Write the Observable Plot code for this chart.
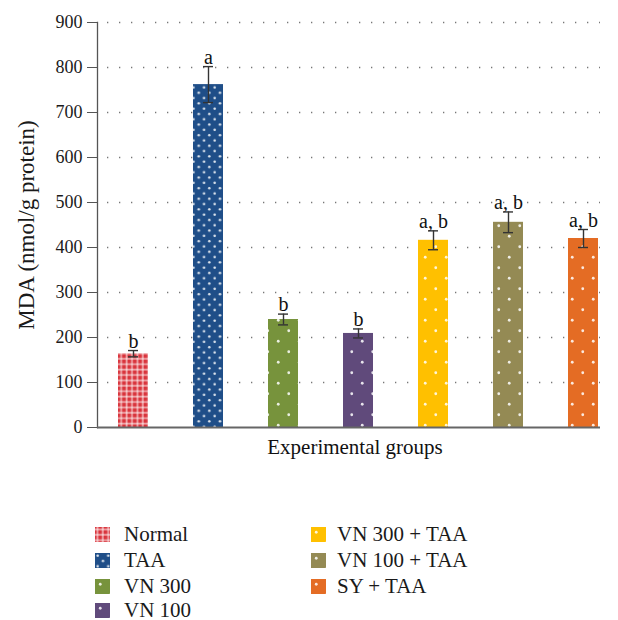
<!DOCTYPE html>
<html>
<head>
<meta charset="utf-8">
<script src="https://cdn.jsdelivr.net/npm/d3@7"></script>
<script src="https://cdn.jsdelivr.net/npm/@observablehq/plot@0.6"></script>
<style>
  body { margin: 0; background: #fff; font-family: "Liberation Serif", "DejaVu Serif", serif; }
  #chart { position: relative; width: 618px; height: 470px; }
  #chart svg g[aria-label="y-axis label"] { font-size: 23px !important; fill: #1a1a1a; font-family: "Liberation Serif", serif; }
  #chart svg g[aria-label="y-axis label"] text { font-size: 23px !important; }
  #legend { position: relative; width: 618px; height: 150px; font-family: "Liberation Serif", serif; font-size: 21px; color: #1a1a1a; }
  .item { position: absolute; display: flex; align-items: center; height: 20px; }
</style>
</head>
<body>
<div id="chart"></div>
<div id="legend"></div>
<script>
const groups = ["Normal", "TAA", "VN 300", "VN 100", "VN 300 + TAA", "VN 100 + TAA", "SY + TAA"];
const means  = [164, 762, 240, 209, 416, 456, 420];
const errors = [7, 40, 12, 10, 21, 23, 20];
const letters = ["b", "a", "b", "b", "a, b", "a, b", "a, b"];
const colors = ["#d9343c", "#1f4e88", "#77933c", "#604a7b", "#ffc000", "#948a54", "#e46c24"];
const patternIds = ["p0", "p1", "p2", "p3", "p4", "p5", "p6"];
const yTicks = [0, 100, 200, 300, 400, 500, 600, 700, 800, 900];
const gridTicks = [100, 200, 300, 400, 500, 600, 700, 800, 900];

const data = groups.map((g, i) => ({group: g, mean: means[i], err: errors[i], letter: letters[i], fill: `url(#${patternIds[i]})`}));
const serif = "Liberation Serif, serif";

const chart = Plot.plot({
  width: 618,
  height: 470,
  marginLeft: 97,
  marginRight: 18,
  marginTop: 22,
  marginBottom: 43,
  style: {fontFamily: serif, fontSize: "18px", color: "#1a1a1a", background: "#fff"},
  x: {domain: groups, range: [95.5, 620.5], paddingInner: 0.6, paddingOuter: 0.3, round: false, axis: null},
  y: {domain: [0, 900], ticks: yTicks, label: null},
  marks: [
    Plot.ruleY(gridTicks, {stroke: "#777", strokeWidth: 1.3, strokeDasharray: "1.3,10.7", strokeDashoffset: -10}),
    Plot.barY(data, {x: "group", y: "mean", fill: "fill"}),
    Plot.ruleX(data, {x: "group", y1: d => d.mean - d.err, y2: d => d.mean + d.err, stroke: "#333", strokeWidth: 1.4}),
    Plot.tickY(data, {x: "group", y: d => d.mean - d.err, stroke: "#333", strokeWidth: 1.4, insetLeft: 10, insetRight: 10}),
    Plot.tickY(data, {x: "group", y: d => d.mean + d.err, stroke: "#333", strokeWidth: 1.4, insetLeft: 10, insetRight: 10}),
    Plot.text(data, {x: "group", y: d => d.mean + d.err, text: "letter", lineAnchor: "bottom", dy: -3, fontSize: 20, fontFamily: serif, fill: "#111"}),
    Plot.axisY({ticks: yTicks, tickSize: 10, tickFormat: () => "", stroke: "#555", label: "MDA (nmol/g protein)", labelAnchor: "center", labelArrow: "none", labelOffset: 80}),
    Plot.text(yTicks, {y: d => d, text: d => String(d), frameAnchor: "left", dx: -15, textAnchor: "end", fontSize: 18, fontFamily: serif, fill: "#1a1a1a"}),
    Plot.frame({anchor: "left", stroke: "#555", strokeWidth: 1.3}),
    Plot.ruleY([0], {stroke: "#666", strokeWidth: 2}),
    Plot.text(["Experimental groups"], {frameAnchor: "bottom", dy: 26, dx: 6, fontSize: 21, fontFamily: serif, fill: "#111"})
  ]
});

// patterns
const defs = d3.select(chart).insert("defs", ":first-child");
function dotPattern(id, color, size, r) {
  const p = defs.append("pattern").attr("id", id).attr("patternUnits", "userSpaceOnUse").attr("width", size).attr("height", size);
  p.append("rect").attr("width", size).attr("height", size).attr("fill", color);
  p.append("circle").attr("cx", size / 4).attr("cy", size / 4).attr("r", r).attr("fill", "#fff").attr("fill-opacity", 0.85);
  p.append("circle").attr("cx", 3 * size / 4).attr("cy", 3 * size / 4).attr("r", r).attr("fill", "#fff").attr("fill-opacity", 0.85);
}
(function () {
  const p = defs.append("pattern").attr("id", "p0").attr("patternUnits", "userSpaceOnUse").attr("width", 5.4).attr("height", 5.4);
  p.append("rect").attr("width", 5.4).attr("height", 5.4).attr("fill", colors[0]);
  p.append("rect").attr("x", 0).attr("y", 1.5).attr("width", 5.4).attr("height", 1.8).attr("fill", "#fff").attr("fill-opacity", 0.55);
  p.append("rect").attr("x", 1.5).attr("y", 0).attr("width", 1.8).attr("height", 5.4).attr("fill", "#fff").attr("fill-opacity", 0.55);
})();
dotPattern("p1", colors[1], 10.6, 1.3);
for (let i = 2; i < 7; i++) dotPattern(patternIds[i], colors[i], 21, 1.4);
d3.select(chart).selectAll("pattern").attr("x", 0).attr("y", 0);

document.getElementById("chart").appendChild(chart);

// legend
const legend = document.getElementById("legend");
const pos = [[95, 64, 14], [95, 90, 14], [95, 116, 14], [95, 140, 14], [311, 64, 11], [311, 90, 11], [311, 116, 11]];
groups.forEach((g, i) => {
  const div = document.createElement("div");
  div.className = "item";
  div.style.left = pos[i][0] + "px";
  div.style.top = (pos[i][1] - 10) + "px";
  div.innerHTML = `<svg width="15" height="15" style="margin-right:${pos[i][2]}px"><rect width="15" height="15" fill="url(#${patternIds[i]})"/></svg><span>${g}</span>`;
  legend.appendChild(div);
});
</script>
</body>
</html>
